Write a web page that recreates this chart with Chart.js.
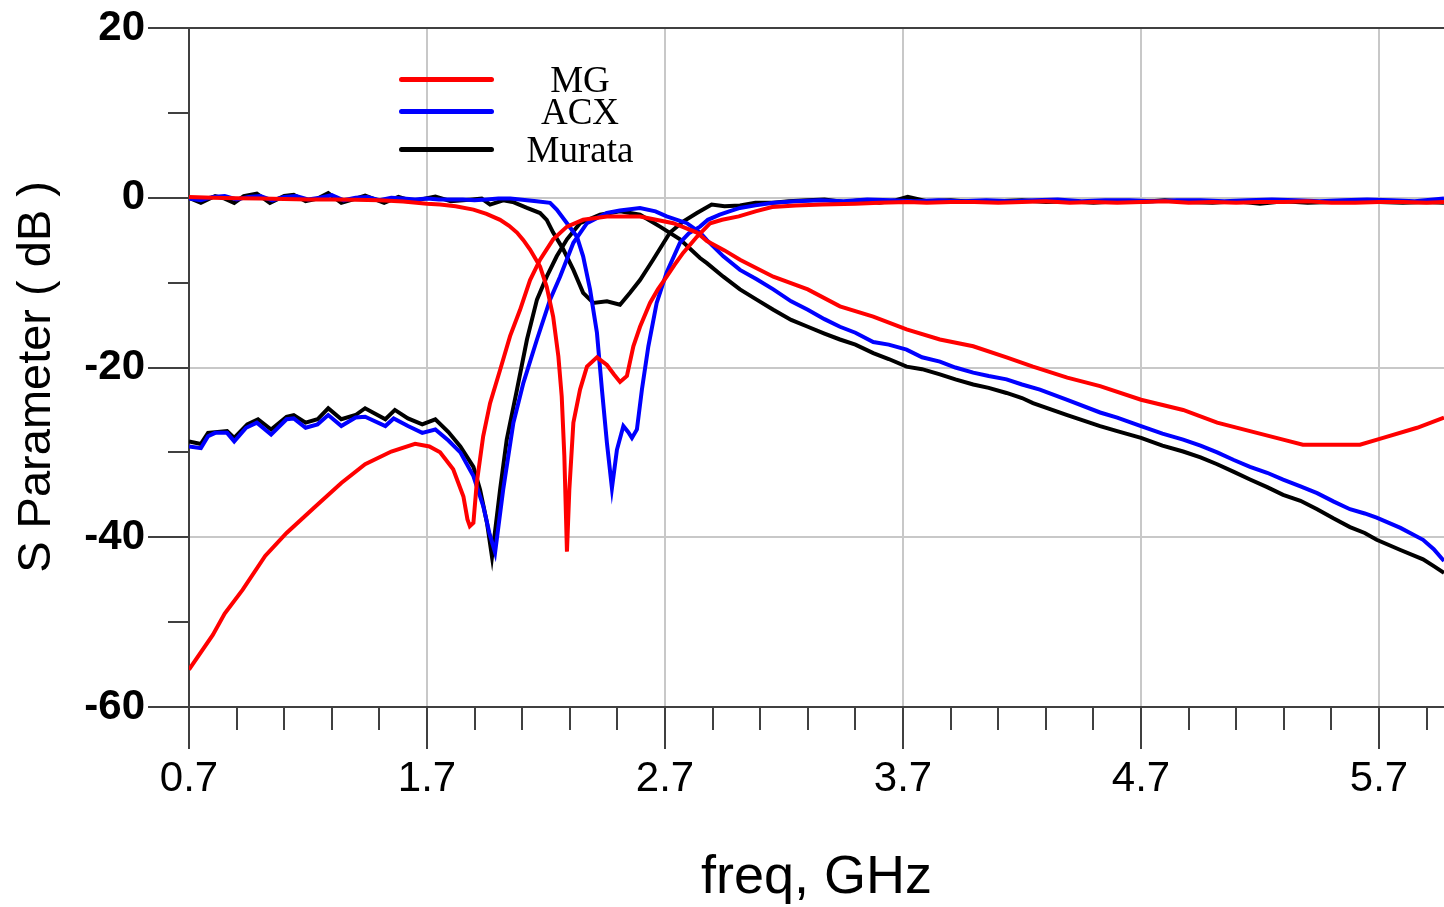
<!DOCTYPE html>
<html>
<head>
<meta charset="utf-8">
<script src="https://cdn.jsdelivr.net/npm/chart.js@4.4.1/dist/chart.umd.min.js"></script>
<style>
html,body{margin:0;padding:0;background:#fff;}
#wrap{position:relative;width:1444px;height:907px;overflow:hidden;}
canvas{display:block;}
.lg-line{position:absolute;left:399px;width:95px;height:5px;border-radius:3px;}
.lg-text{position:absolute;left:500px;width:160px;text-align:center;font-family:'Liberation Serif','Times New Roman',serif;font-size:37px;line-height:37px;color:#000;white-space:nowrap;}
</style>
</head>
<body>
<div id="wrap">
<canvas id="c" width="1444" height="907"></canvas>
<div class="lg-line" style="top:77px;background:#ff0000"></div>
<div class="lg-line" style="top:109px;background:#0000ff"></div>
<div class="lg-line" style="top:147px;background:#000000"></div>
<div class="lg-text" style="top:61px">MG</div>
<div class="lg-text" style="top:93px">ACX</div>
<div class="lg-text" style="top:131px">Murata</div>
</div>
<script>
// ---------- axis ticks ----------
const xTickValues = [0.7,0.9,1.1,1.3,1.5,1.7,1.9,2.1,2.3,2.5,2.7,2.9,3.1,3.3,3.5,3.7,3.9,4.1,4.3,4.5,4.7,4.9,5.1,5.3,5.5,5.7,5.9];
const xTickLabels = ['0.7','1.7','2.7','3.7','4.7','5.7'];
const yTickValues = [-60,-50,-40,-30,-20,-10,0,10,20];
const yTickLabels = ['-60','-40','-20','0','20'];

// ---------- MG (red) ----------
const mgS11Freq = [0.7,0.8,0.9,1.0,1.1,1.2,1.3,1.4,1.5,1.6,1.7,1.755,1.82,1.895,1.95,2.007,2.045,2.078,2.105,2.133,2.175,2.203,2.23,2.252,2.266,2.277,2.288,2.298,2.315,2.343,2.372,2.414,2.456,2.485,2.511,2.54,2.567,2.595,2.637,2.67,2.707,2.74,2.776,2.834,2.89,2.94,3.01,3.08,3.15,3.25,3.36,3.5,3.6,3.72,3.8,3.9,4.0,4.1,4.2,4.3,4.4,4.5,4.6,4.7,4.8,4.9,5.0,5.1,5.2,5.3,5.4,5.5,5.6,5.7,5.8,5.9,5.973];
const mgS11dB = [0.1,0,-0.05,-0.1,-0.15,-0.2,-0.2,-0.25,-0.3,-0.45,-0.7,-0.8,-1.0,-1.4,-1.9,-2.6,-3.3,-4.1,-5.0,-6.1,-8.1,-10.5,-14,-18.7,-23.4,-30.4,-41.7,-34.4,-26.5,-22.6,-19.9,-18.8,-19.7,-20.8,-21.7,-21,-17.5,-15.2,-12.4,-10.8,-9.3,-7.9,-6.5,-4.6,-3.0,-2.6,-2.2,-1.6,-1.1,-0.9,-0.8,-0.7,-0.6,-0.5,-0.6,-0.5,-0.5,-0.6,-0.5,-0.4,-0.6,-0.5,-0.6,-0.5,-0.4,-0.6,-0.5,-0.6,-0.5,-0.5,-0.4,-0.6,-0.6,-0.5,-0.5,-0.6,-0.5];
const mgS21Freq = [0.7,0.8,0.85,0.925,1.02,1.11,1.23,1.34,1.44,1.55,1.65,1.71,1.755,1.81,1.853,1.87,1.88,1.895,1.909,1.936,1.965,2.007,2.049,2.091,2.133,2.175,2.23,2.288,2.356,2.456,2.595,2.735,2.834,2.876,2.95,3.015,3.155,3.30,3.435,3.575,3.715,3.855,3.995,4.135,4.246,4.39,4.528,4.70,4.877,5.02,5.158,5.297,5.38,5.50,5.62,5.717,5.86,5.973];
const mgS21dB = [-55.6,-51.5,-49,-46.2,-42.2,-39.5,-36.4,-33.6,-31.4,-29.9,-29,-29.3,-30.0,-32,-35.2,-37.9,-38.7,-38.3,-33.6,-28.1,-24.2,-20.3,-16.3,-13.2,-9.7,-7.3,-4.9,-3.4,-2.6,-2.2,-2.2,-3,-4.1,-5.1,-6.2,-7.3,-9.3,-10.8,-12.8,-14,-15.5,-16.7,-17.5,-18.8,-19.9,-21.2,-22.2,-23.8,-25,-26.5,-27.5,-28.5,-29.1,-29.1,-29.1,-28.3,-27.1,-25.9];

// ---------- ACX (blue) ----------
const acxS11Freq = [0.7,0.75,0.8,0.85,0.9,0.95,1.0,1.05,1.1,1.15,1.2,1.25,1.3,1.35,1.4,1.45,1.5,1.55,1.6,1.65,1.7,1.75,1.8,1.85,1.9,1.95,2.0,2.05,2.09,2.16,2.217,2.245,2.288,2.33,2.356,2.385,2.414,2.435,2.456,2.477,2.498,2.525,2.545,2.561,2.582,2.603,2.63,2.665,2.707,2.763,2.80,2.847,2.88,2.93,2.97,3.015,3.08,3.155,3.25,3.35,3.45,3.55,3.65,3.75,3.85,3.95,4.05,4.15,4.25,4.35,4.45,4.55,4.65,4.75,4.85,4.95,5.05,5.15,5.25,5.35,5.45,5.55,5.65,5.75,5.85,5.973];
const acxS11dB = [-0.1,-0.3,0.1,0.2,-0.2,0.1,0.2,-0.3,0.1,0.2,-0.2,0,0.3,-0.3,0,0.1,-0.3,0,-0.1,-0.2,-0.1,-0.2,-0.2,-0.2,-0.3,-0.2,-0.1,-0.1,-0.2,-0.4,-0.6,-1.4,-3,-4.6,-6.9,-10.8,-15.9,-22.6,-28.9,-34.2,-29.7,-26.9,-27.6,-28.3,-27.3,-22.6,-17.5,-12.4,-8.8,-5.3,-4.2,-3.4,-2.6,-2,-1.6,-1.2,-0.9,-0.6,-0.4,-0.3,-0.4,-0.2,-0.3,-0.4,-0.3,-0.4,-0.3,-0.4,-0.3,-0.2,-0.4,-0.3,-0.3,-0.4,-0.3,-0.3,-0.4,-0.3,-0.2,-0.3,-0.4,-0.3,-0.2,-0.3,-0.4,-0.1];
const acxS21Freq = [0.7,0.75,0.78,0.81,0.86,0.89,0.94,0.985,1.045,1.11,1.14,1.19,1.24,1.285,1.34,1.40,1.44,1.525,1.56,1.62,1.68,1.735,1.79,1.84,1.895,1.937,1.962,1.986,2.02,2.063,2.105,2.162,2.217,2.259,2.315,2.372,2.456,2.51,2.595,2.66,2.707,2.792,2.847,2.876,2.945,3.015,3.085,3.155,3.23,3.30,3.37,3.435,3.5,3.575,3.64,3.715,3.78,3.855,3.92,3.995,4.06,4.135,4.2,4.275,4.39,4.528,4.60,4.70,4.79,4.877,4.95,5.02,5.09,5.158,5.23,5.297,5.37,5.44,5.51,5.578,5.64,5.69,5.79,5.885,5.93,5.973];
const acxS21dB = [-29.3,-29.5,-28.1,-27.7,-27.7,-28.7,-27.1,-26.5,-27.9,-26.1,-26,-27.1,-26.7,-25.6,-26.9,-25.9,-25.8,-26.9,-26,-26.9,-27.7,-27.3,-28.6,-30,-32.8,-36.4,-39.5,-41.8,-34.4,-26.5,-21.8,-16.7,-12,-9.3,-5.3,-3,-1.8,-1.5,-1.2,-1.6,-2.2,-3,-4.1,-5.0,-6.9,-8.5,-9.6,-10.8,-12.2,-13.2,-14.3,-15.2,-15.9,-17,-17.3,-17.9,-18.8,-19.3,-20,-20.6,-21,-21.4,-22,-22.6,-23.8,-25.3,-25.9,-26.9,-27.8,-28.5,-29.2,-30,-30.9,-31.7,-32.4,-33.2,-34,-34.8,-35.8,-36.7,-37.2,-37.7,-38.9,-40.3,-41.4,-42.8];

// ---------- Murata (black) ----------
const murS11Freq = [0.7,0.75,0.81,0.85,0.89,0.93,0.985,1.04,1.10,1.14,1.19,1.24,1.285,1.34,1.39,1.44,1.52,1.58,1.64,1.69,1.735,1.80,1.89,1.93,1.965,2.02,2.06,2.12,2.175,2.203,2.23,2.273,2.315,2.356,2.399,2.456,2.511,2.553,2.595,2.65,2.721,2.776,2.834,2.896,2.95,3.015,3.08,3.155,3.22,3.3,3.37,3.45,3.52,3.6,3.67,3.72,3.8,3.9,4.0,4.1,4.2,4.3,4.4,4.5,4.6,4.7,4.8,4.9,5.0,5.1,5.2,5.3,5.4,5.5,5.6,5.7,5.8,5.9,5.973];
const murS11dB = [0,-0.6,0.2,-0.1,-0.6,0.2,0.5,-0.6,0.2,0.35,-0.4,-0.1,0.55,-0.6,-0.2,0.25,-0.6,0.1,-0.4,-0.1,0.15,-0.4,-0.2,-0.1,-0.8,-0.3,-0.5,-1.2,-1.8,-2.6,-4.1,-6.1,-8.5,-11.2,-12.4,-12.2,-12.6,-11.2,-9.7,-7.3,-4.1,-2.8,-1.8,-0.8,-1.0,-0.9,-0.6,-0.6,-0.4,-0.3,-0.2,-0.5,-0.3,-0.6,-0.3,0.1,-0.4,-0.3,-0.5,-0.4,-0.3,-0.5,-0.4,-0.6,-0.4,-0.5,-0.3,-0.5,-0.6,-0.4,-0.7,-0.4,-0.6,-0.5,-0.4,-0.5,-0.6,-0.5,-0.6];
const murS21Freq = [0.7,0.75,0.78,0.86,0.89,0.945,0.99,1.045,1.11,1.14,1.19,1.24,1.285,1.34,1.40,1.44,1.525,1.565,1.62,1.68,1.735,1.79,1.84,1.895,1.923,1.952,1.973,2.007,2.035,2.078,2.12,2.162,2.203,2.245,2.288,2.343,2.427,2.511,2.595,2.679,2.763,2.847,2.876,2.945,3.015,3.085,3.155,3.23,3.30,3.37,3.435,3.5,3.575,3.64,3.715,3.78,3.855,3.92,3.995,4.06,4.135,4.2,4.246,4.39,4.528,4.6,4.70,4.79,4.877,4.95,5.02,5.09,5.158,5.23,5.297,5.37,5.44,5.51,5.578,5.64,5.69,5.79,5.885,5.93,5.973];
const murS21dB = [-28.7,-29,-27.7,-27.5,-28.3,-26.7,-26.1,-27.3,-25.8,-25.6,-26.5,-26.1,-24.8,-26.1,-25.6,-24.8,-26.1,-25,-26,-26.7,-26.1,-27.6,-29.3,-31.7,-34.4,-38.3,-42.3,-34.4,-28.5,-22.6,-16.7,-12,-9.3,-6.9,-4.9,-3,-2,-1.6,-2,-3.4,-4.9,-7.1,-7.7,-9.3,-10.8,-12,-13.2,-14.4,-15.2,-16,-16.7,-17.3,-18.3,-19,-19.9,-20.2,-20.8,-21.4,-22,-22.4,-23,-23.6,-24.2,-25.6,-26.9,-27.5,-28.3,-29.2,-29.9,-30.6,-31.4,-32.3,-33.2,-34.1,-35,-35.7,-36.7,-37.8,-38.8,-39.5,-40.3,-41.5,-42.6,-43.4,-44.2];

// ---------- build chart ----------
const zip = (fx, dy) => fx.map((f, i) => ({x: f, y: dy[i]}));
const near = (a, b) => Math.abs(a - b) < 1e-6;
const isMajorX = v => xTickLabels.some(l => near(parseFloat(l), v));
const isMajorY = v => yTickLabels.some(l => near(parseFloat(l), v));

const RED = '#ff0000', BLUE = '#0000ff', BLACK = '#000000';
const AXIS = '#404040', GRID = '#c8c8c8';
const lineDs = (label, data, color) => ({
  label, data, borderColor: color, backgroundColor: color,
  borderWidth: 4, pointRadius: 0, tension: 0, fill: false
});

const tickMarks = {
  id: 'tickMarks',
  afterDraw(chart) {
    const {ctx, chartArea: a, scales: {x, y}} = chart;
    ctx.save();
    ctx.strokeStyle = AXIS;
    ctx.lineWidth = 2;
    ctx.beginPath();
    xTickValues.forEach(v => {
      const px = Math.round(x.getPixelForValue(v));
      const len = isMajorX(v) ? 42 : 23;
      ctx.moveTo(px, a.bottom);
      ctx.lineTo(px, a.bottom + len);
    });
    yTickValues.forEach(v => {
      const py = Math.round(y.getPixelForValue(v));
      const len = isMajorY(v) ? 41 : 21;
      ctx.moveTo(a.left - len, py);
      ctx.lineTo(a.left, py);
    });
    ctx.stroke();
    ctx.restore();
  }
};

const zeroPad = s => { s.paddingTop = 0; s.paddingBottom = 0; s.paddingLeft = 0; s.paddingRight = 0; };

new Chart(document.getElementById('c'), {
  type: 'line',
  data: {
    datasets: [
      lineDs('MG S11', zip(mgS11Freq, mgS11dB), RED),
      lineDs('MG S21', zip(mgS21Freq, mgS21dB), RED),
      lineDs('ACX S11', zip(acxS11Freq, acxS11dB), BLUE),
      lineDs('ACX S21', zip(acxS21Freq, acxS21dB), BLUE),
      lineDs('Murata S11', zip(murS11Freq, murS11dB), BLACK),
      lineDs('Murata S21', zip(murS21Freq, murS21dB), BLACK)
    ]
  },
  options: {
    responsive: false,
    animation: false,
    devicePixelRatio: 1,
    layout: {padding: {top: 28, left: 0, right: 0, bottom: 0}},
    plugins: {legend: {display: false}, tooltip: {enabled: false}},
    scales: {
      x: {
        type: 'linear',
        min: 0.7,
        max: 5.973,
        afterBuildTicks: s => { s.ticks = xTickValues.map(v => ({value: v})); },
        afterFit: s => { s.height = 200; zeroPad(s); },
        ticks: {
          autoSkip: false, maxRotation: 0, minRotation: 0, padding: 47,
          color: '#000',
          font: {family: "'Liberation Sans', Arial, sans-serif", size: 42, lineHeight: 1.2},
          callback: v => { const l = xTickLabels.find(t => near(parseFloat(t), v)); return l || ''; }
        },
        grid: {
          drawTicks: false,
          lineWidth: 2,
          color: c => (c.tick && isMajorX(c.tick.value)) ? GRID : 'rgba(0,0,0,0)'
        },
        border: {display: true, color: AXIS, width: 2},
        title: {
          display: true, text: 'freq, GHz', color: '#000',
          font: {family: "'Liberation Sans', Arial, sans-serif", size: 54, lineHeight: 1},
          padding: {top: 0, bottom: 2}
        }
      },
      y: {
        type: 'linear',
        min: -60,
        max: 20,
        afterBuildTicks: s => { s.ticks = yTickValues.map(v => ({value: v})); },
        afterFit: s => { s.width = 189; zeroPad(s); },
        ticks: {
          autoSkip: false, padding: 44, color: '#000',
          font: {family: "'Liberation Sans', Arial, sans-serif", size: 42, weight: 'bold', lineHeight: 1.2},
          callback: v => { const l = yTickLabels.find(t => near(parseFloat(t), v)); return l || ''; }
        },
        grid: {
          drawTicks: false,
          lineWidth: 2,
          color: c => {
            if (!c.tick) return 'rgba(0,0,0,0)';
            if (near(c.tick.value, 20)) return AXIS;
            return isMajorY(c.tick.value) ? GRID : 'rgba(0,0,0,0)';
          }
        },
        border: {display: true, color: AXIS, width: 2},
        title: {
          display: true, text: 'S Parameter ( dB )\u2009\u2009', color: '#000',
          font: {family: "'Liberation Sans', Arial, sans-serif", size: 47, lineHeight: 1},
          padding: {top: 14, bottom: 0}
        }
      }
    }
  },
  plugins: [tickMarks]
});
</script>
</body>
</html>
